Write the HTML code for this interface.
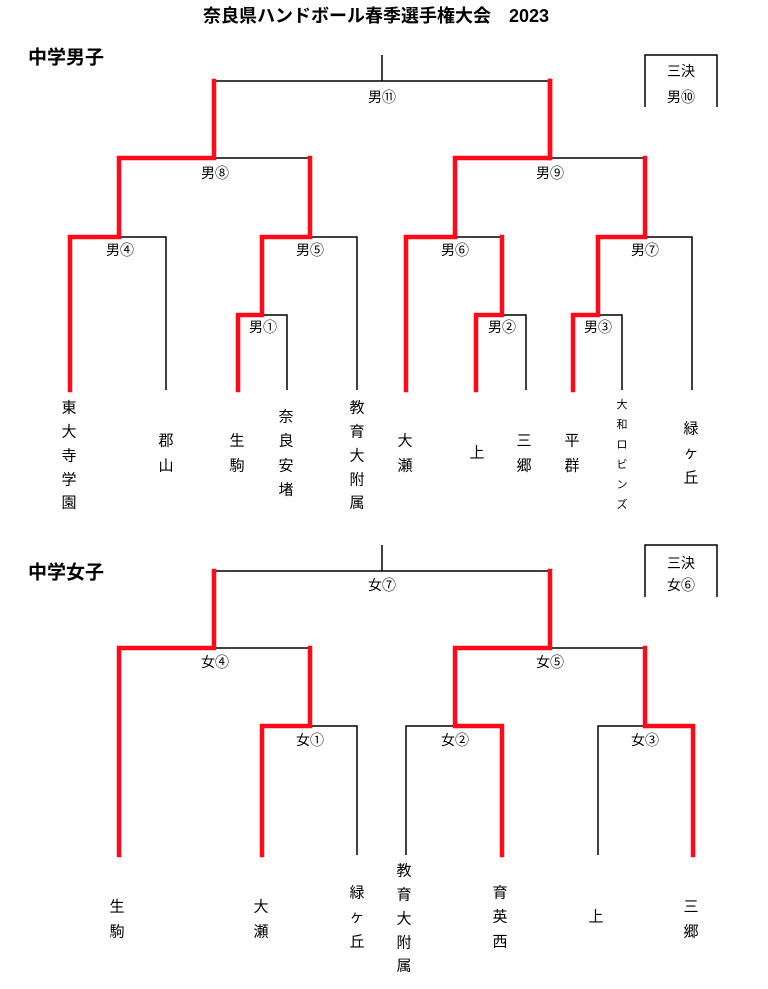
<!DOCTYPE html>
<html><head><meta charset="utf-8"><style>
html,body{margin:0;padding:0;background:#fff;}
svg{display:block;}
text{font-family:"Liberation Sans","Noto Sans CJK JP",sans-serif;fill:#000;}
.k{stroke:#000;stroke-width:1.5;fill:none;}
.r{stroke:#ff0a1a;stroke-width:4.5;fill:none;stroke-linejoin:miter;stroke-linecap:square;}
.l{font-size:14px;text-anchor:middle;dominant-baseline:central;}
.n{font-size:15px;text-anchor:middle;dominant-baseline:central;}
.s{font-size:11px;text-anchor:middle;dominant-baseline:central;}
</style></head><body>
<svg width="768" height="989" viewBox="0 0 768 989" xmlns="http://www.w3.org/2000/svg">
<text x="376" y="16" style="font-size:18px;font-weight:bold;text-anchor:middle;dominant-baseline:central">奈良県ハンドボール春季選手権大会　2023</text>
<text x="28" y="58" style="font-size:19px;font-weight:bold;dominant-baseline:central">中学男子</text>
<text x="28" y="573" style="font-size:19px;font-weight:bold;dominant-baseline:central">中学女子</text>

<!-- BOYS black -->
<path class="k" d="M382 55V81M214 81H550"/>
<path class="k" d="M214 158H310M550 158H645"/>
<path class="k" d="M119 237H166V390M310 237H357V390M455 237H502M645 237H692V390"/>
<path class="k" d="M262 315H287V390M502 315H526V390M598 315H622V390"/>
<path class="k" d="M645 107V55H717V107"/>
<!-- BOYS red -->
<path class="r" d="M214 81V158H119V237H70V390"/>
<path class="r" d="M310 158V237H262V315H238V390"/>
<path class="r" d="M550 81V158H455V237H406V390"/>
<path class="r" d="M502 237V315H476V390"/>
<path class="r" d="M645 158V237H598V315H573V390"/>
<path class="r" d="M550 81V158"/>

<text class="l" x="382" y="97">男⑪</text>
<text class="l" x="215" y="173">男⑧</text>
<text class="l" x="550" y="173">男⑨</text>
<text class="l" x="120" y="250">男④</text>
<text class="l" x="310" y="250">男⑤</text>
<text class="l" x="455" y="250">男⑥</text>
<text class="l" x="645" y="250">男⑦</text>
<text class="l" x="263" y="327">男①</text>
<text class="l" x="502" y="327">男②</text>
<text class="l" x="598" y="327">男③</text>
<text class="l" x="681" y="71">三決</text>
<text class="l" x="681" y="97">男⑩</text>

<g class="n">
<text class="n" x="69" y="408">東</text><text class="n" x="69" y="432">大</text><text class="n" x="69" y="456">寺</text><text class="n" x="69" y="480">学</text><text class="n" x="69" y="503">園</text>
<text class="n" x="166" y="441">郡</text><text class="n" x="166" y="466">山</text>
<text class="n" x="237" y="441">生</text><text class="n" x="237" y="466">駒</text>
<text class="n" x="286" y="417">奈</text><text class="n" x="286" y="441">良</text><text class="n" x="286" y="466">安</text><text class="n" x="286" y="490">堵</text>
<text class="n" x="357" y="408">教</text><text class="n" x="357" y="432">育</text><text class="n" x="357" y="456">大</text><text class="n" x="357" y="480">附</text><text class="n" x="357" y="503">属</text>
<text class="n" x="405" y="441">大</text><text class="n" x="405" y="466">瀬</text>
<text class="n" x="477" y="453">上</text>
<text class="n" x="524" y="441">三</text><text class="n" x="524" y="466">郷</text>
<text class="n" x="572" y="441">平</text><text class="n" x="572" y="466">群</text>
<text class="s" x="622" y="405">大</text><text class="s" x="622" y="425">和</text><text class="s" x="622" y="445">ロ</text><text class="s" x="622" y="465">ビ</text><text class="s" x="622" y="485">ン</text><text class="s" x="622" y="505">ズ</text>
<text class="n" x="691" y="429">緑</text><text class="n" x="691" y="453">ヶ</text><text class="n" x="691" y="478">丘</text>
</g>

<!-- GIRLS black -->
<path class="k" d="M382 545V571M214 571H550"/>
<path class="k" d="M214 648H310M550 648H645"/>
<path class="k" d="M310 726H357V855M455 726H406V855M645 726H598V855"/>
<path class="k" d="M645 597V545H717V597"/>
<!-- GIRLS red -->
<path class="r" d="M214 571V648H119V855"/>
<path class="r" d="M310 648V726H262V855"/>
<path class="r" d="M550 571V648H455V726H502V855"/>
<path class="r" d="M645 648V726H693V855"/>

<text class="l" x="382" y="585">女⑦</text>
<text class="l" x="215" y="662">女④</text>
<text class="l" x="550" y="662">女⑤</text>
<text class="l" x="310" y="740">女①</text>
<text class="l" x="455" y="740">女②</text>
<text class="l" x="645" y="740">女③</text>
<text class="l" x="681" y="563">三決</text>
<text class="l" x="681" y="585">女⑥</text>

<text class="n" x="117" y="907">生</text><text class="n" x="117" y="932">駒</text>
<text class="n" x="261" y="907">大</text><text class="n" x="261" y="932">瀬</text>
<text class="n" x="357" y="893">緑</text><text class="n" x="357" y="917">ヶ</text><text class="n" x="357" y="942">丘</text>
<text class="n" x="404" y="871">教</text><text class="n" x="404" y="895">育</text><text class="n" x="404" y="919">大</text><text class="n" x="404" y="943">附</text><text class="n" x="404" y="966">属</text>
<text class="n" x="500" y="893">育</text><text class="n" x="500" y="917">英</text><text class="n" x="500" y="942">西</text>
<text class="n" x="596" y="917">上</text>
<text class="n" x="691" y="907">三</text><text class="n" x="691" y="932">郷</text>
</svg>
</body></html>
